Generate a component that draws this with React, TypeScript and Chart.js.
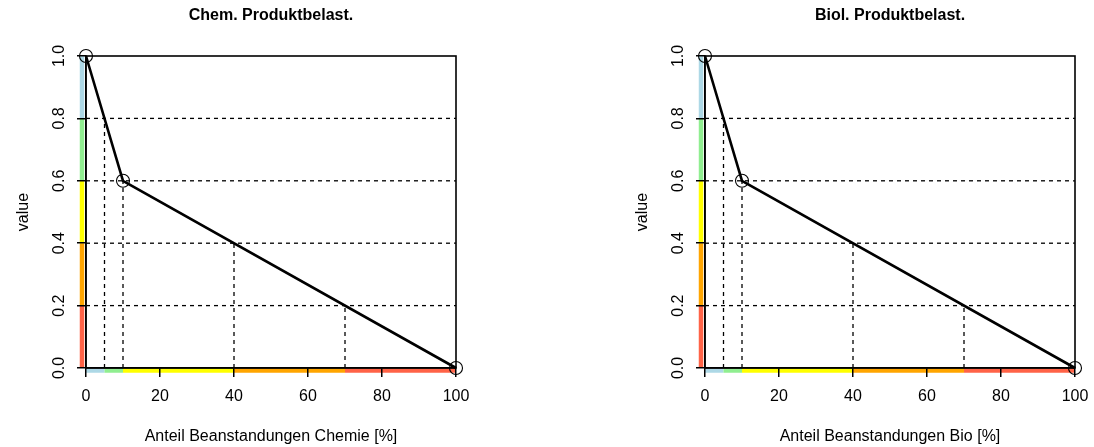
import React, { useEffect, useRef } from "react";
import { Chart, registerables } from "chart.js";

Chart.register(...registerables);

// ---- data ----
const panelTitles = ["Chem. Produktbelast.", "Biol. Produktbelast."];
const xAxisTitles = ["Anteil Beanstandungen Chemie [%]", "Anteil Beanstandungen Bio [%]"];
const yAxisTitle = "value";
const curveX = [0, 10, 100];
const curveY = [1.0, 0.6, 0.0];
const hLineY = [0.2, 0.4, 0.6, 0.8];
const vLineX = [5, 10, 40, 70];
const vLineTop = [0.8, 0.6, 0.4, 0.2];
const yBandEdges = [0, 0.2, 0.4, 0.6, 0.8, 1.0];
const yBandColors = ["#FF6347", "#FFA500", "#FFFF00", "#90EE90", "#ADD8E6"];
const xBandEdges = [0, 5, 10, 40, 70, 100];
const xBandColors = ["#ADD8E6", "#90EE90", "#FFFF00", "#FFA500", "#FF6347"];
const xRange = [0, 100];
const yRange = [0, 1];
const xStep = 20;
const yStep = 0.2;

const FONT = "'Liberation Sans', Arial, Helvetica, sans-serif";

function decorPlugin(title: string) {
  return {
    id: "decor",
    beforeDraw(chart: any) {
      const { ctx, chartArea, scales } = chart;
      const xs = scales.x;
      const ys = scales.y;
      ctx.save();
      ctx.lineWidth = 4.5;
      ctx.lineCap = "butt";
      const bx = chartArea.left - 4;
      for (let i = 0; i < yBandColors.length; i++) {
        ctx.strokeStyle = yBandColors[i];
        ctx.beginPath();
        ctx.moveTo(bx, ys.getPixelForValue(yBandEdges[i]));
        ctx.lineTo(bx, ys.getPixelForValue(yBandEdges[i + 1]));
        ctx.stroke();
      }
      const by = chartArea.bottom + 2.5;
      for (let i = 0; i < xBandColors.length; i++) {
        ctx.strokeStyle = xBandColors[i];
        ctx.beginPath();
        ctx.moveTo(xs.getPixelForValue(xBandEdges[i]), by);
        ctx.lineTo(xs.getPixelForValue(xBandEdges[i + 1]), by);
        ctx.stroke();
      }
      ctx.restore();
    },
    beforeDatasetsDraw(chart: any) {
      const { ctx, chartArea } = chart;
      ctx.save();
      ctx.strokeStyle = "#000";
      ctx.lineWidth = 1.6;
      ctx.strokeRect(chartArea.left, chartArea.top, chartArea.right - chartArea.left, chartArea.bottom - chartArea.top);
      ctx.restore();
    },
    afterDraw(chart: any) {
      const { ctx, chartArea } = chart;
      ctx.save();
      ctx.fillStyle = "#000";
      ctx.font = `bold 16px ${FONT}`;
      ctx.textAlign = "center";
      ctx.textBaseline = "middle";
      ctx.fillText(title, (chartArea.left + chartArea.right) / 2, 16);
      ctx.restore();
    },
  };
}

function Panel({ idx, left }: { idx: number; left: number }) {
  const ref = useRef<HTMLCanvasElement | null>(null);
  useEffect(() => {
    if (!ref.current) return;
    const curve = curveX.map((x, i) => ({ x, y: curveY[i] }));
    const dashed: any[] = [];
    hLineY.forEach((y) =>
      dashed.push({
        data: [
          { x: xRange[0], y },
          { x: xRange[1], y },
        ],
        borderColor: "#000",
        borderWidth: 1.3,
        borderDash: [4, 4],
        pointRadius: 0,
        clip: false,
      })
    );
    vLineX.forEach((x, i) =>
      dashed.push({
        data: [
          { x, y: yRange[0] },
          { x, y: vLineTop[i] },
        ],
        borderColor: "#000",
        borderWidth: 1.3,
        borderDash: [4, 4],
        pointRadius: 0,
        clip: false,
      })
    );
    const chart = new Chart(ref.current, {
      type: "line",
      data: {
        datasets: [
          {
            data: curve,
            borderColor: "#000",
            borderWidth: 2.6,
            pointRadius: 6.5,
            pointBorderWidth: 1.1,
            pointBorderColor: "#000",
            pointBackgroundColor: "rgba(0,0,0,0)",
            clip: false,
            tension: 0,
          } as any,
          ...dashed,
        ],
      },
      options: {
        animation: false,
        responsive: false,
        maintainAspectRatio: false,
        events: [],
        layout: { padding: { left: 0, top: 56, right: 91, bottom: 0 } },
        plugins: { legend: { display: false }, tooltip: { enabled: false }, title: { display: false } },
        scales: {
          x: {
            type: "linear",
            min: xRange[0],
            max: xRange[1],
            ticks: {
              stepSize: xStep,
              color: "#000",
              font: { size: 16, family: FONT },
              padding: 10,
              maxRotation: 0,
              autoSkip: false,
            },
            grid: { display: true, drawOnChartArea: false, drawTicks: true, tickLength: 9, color: "#000", lineWidth: 1.5 },
            border: { display: true, color: "#000", width: 1.6 },
            title: {
              display: true,
              text: xAxisTitles[idx],
              color: "#000",
              font: { size: 16, family: FONT },
              padding: { top: 0, bottom: 1 },
            },
            afterFit: (s: any) => {
              s.height = 79;
            },
          },
          y: {
            type: "linear",
            min: yRange[0],
            max: yRange[1],
            ticks: {
              stepSize: yStep,
              color: "#000",
              font: { size: 16, family: FONT },
              padding: 6,
              minRotation: 90,
              maxRotation: 90,
              crossAlign: "center",
              autoSkip: false,
              callback: (v: any) => Number(v).toFixed(1),
            },
            grid: { display: true, drawOnChartArea: false, drawTicks: true, tickLength: 9, color: "#000", lineWidth: 1.5 },
            border: { display: true, color: "#000", width: 1.6 },
            title: {
              display: true,
              text: yAxisTitle,
              color: "#000",
              font: { size: 16, family: FONT },
              padding: { top: 14, bottom: 0 },
            },
            afterFit: (s: any) => {
              s.width = 86;
            },
          },
        },
      } as any,
      plugins: [decorPlugin(panelTitles[idx])],
    });
    return () => chart.destroy();
  }, [idx]);
  return (
    <canvas
      ref={ref}
      width={547}
      height={447}
      style={{ position: "absolute", left, top: 0, width: 547, height: 447 }}
    />
  );
}

export default function App() {
  return (
    <div style={{ position: "fixed", left: 0, top: 0, width: 1094, height: 447, background: "#fff", overflow: "hidden" }}>
      <Panel idx={0} left={0} />
      <Panel idx={1} left={619} />
    </div>
  );
}
